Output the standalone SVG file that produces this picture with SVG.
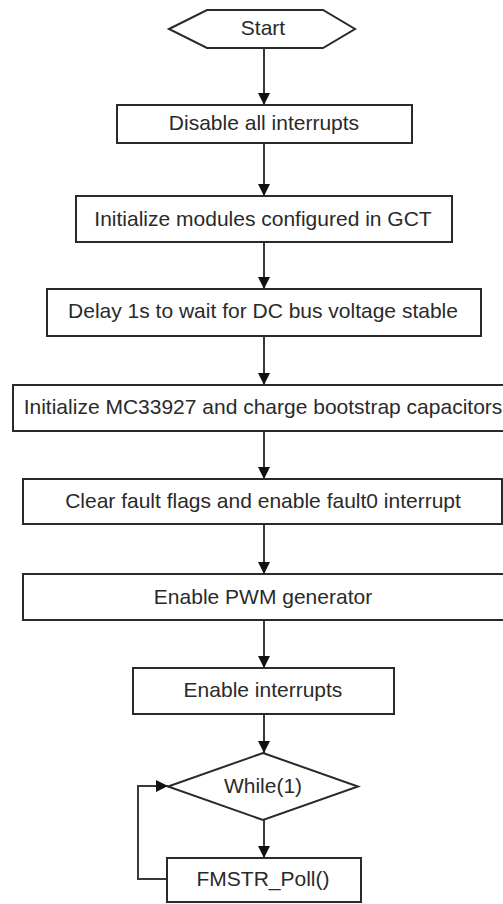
<svg xmlns="http://www.w3.org/2000/svg" width="503" height="904" viewBox="0 0 503 904">
<style>
.box{fill:#fff;stroke:#2a2a2a;stroke-width:2}
.lbl{font-family:"Liberation Sans",Arial,sans-serif;font-size:21px;fill:#2a2a2a;text-anchor:middle}
.con{fill:none;stroke:#3a3a3a;stroke-width:2}
</style>
<defs>
<marker id="arr" markerUnits="userSpaceOnUse" markerWidth="12" markerHeight="12" refX="12" refY="6" orient="auto">
<path d="M0,0 L12,6 L0,12 z" fill="#111"/>
</marker>
</defs>
<rect width="503" height="904" fill="#fff"/>
<g id="connectors">
<line class="con" x1="264" y1="48" x2="264" y2="105" marker-end="url(#arr)"/>
<line class="con" x1="264" y1="143" x2="264" y2="196" marker-end="url(#arr)"/>
<line class="con" x1="264" y1="242" x2="264" y2="289" marker-end="url(#arr)"/>
<line class="con" x1="264" y1="336" x2="264" y2="385" marker-end="url(#arr)"/>
<line class="con" x1="264" y1="431" x2="264" y2="479" marker-end="url(#arr)"/>
<line class="con" x1="264" y1="524" x2="264" y2="574" marker-end="url(#arr)"/>
<line class="con" x1="264" y1="620" x2="264" y2="668" marker-end="url(#arr)"/>
<line class="con" x1="264" y1="714" x2="264" y2="753" marker-end="url(#arr)"/>
<line class="con" x1="264" y1="820" x2="264" y2="858" marker-end="url(#arr)"/>
<polyline class="con" points="167,879 138,879 138,786 168,786" marker-end="url(#arr)"/>
</g>
<g id="start">
<polygon class="box" points="169,29 207,10 323,10 355,29 323,48 207,48"/>
<text class="lbl" x="263" y="35">Start</text>
</g>
<g id="disable">
<rect class="box" x="117" y="105" width="295" height="38"/>
<text class="lbl" x="264" y="130">Disable all interrupts</text>
</g>
<g id="initmodules">
<rect class="box" x="76" y="196" width="376" height="46"/>
<text class="lbl" x="263" y="226">Initialize modules configured in GCT</text>
</g>
<g id="delay">
<rect class="box" x="47" y="289" width="434" height="47"/>
<text class="lbl" x="263" y="318">Delay 1s to wait for DC bus voltage stable</text>
</g>
<g id="initmc">
<rect class="box" x="13" y="385" width="500" height="46"/>
<text class="lbl" x="263" y="414">Initialize MC33927 and charge bootstrap capacitors</text>
</g>
<g id="clearfault">
<rect class="box" x="23" y="479" width="479" height="45"/>
<text class="lbl" x="263" y="508">Clear fault flags and enable fault0 interrupt</text>
</g>
<g id="enablepwm">
<rect class="box" x="23" y="574" width="490" height="46"/>
<text class="lbl" x="263" y="604">Enable PWM generator</text>
</g>
<g id="enableint">
<rect class="box" x="133" y="668" width="261" height="46"/>
<text class="lbl" x="263" y="697">Enable interrupts</text>
</g>
<g id="while">
<polygon class="box" points="263,753 358,786.5 263,820 168,786.5"/>
<text class="lbl" x="263" y="793">While(1)</text>
</g>
<g id="fmstr">
<rect class="box" x="167" y="858" width="194" height="44"/>
<text class="lbl" x="263" y="886">FMSTR_Poll()</text>
</g>
</svg>
